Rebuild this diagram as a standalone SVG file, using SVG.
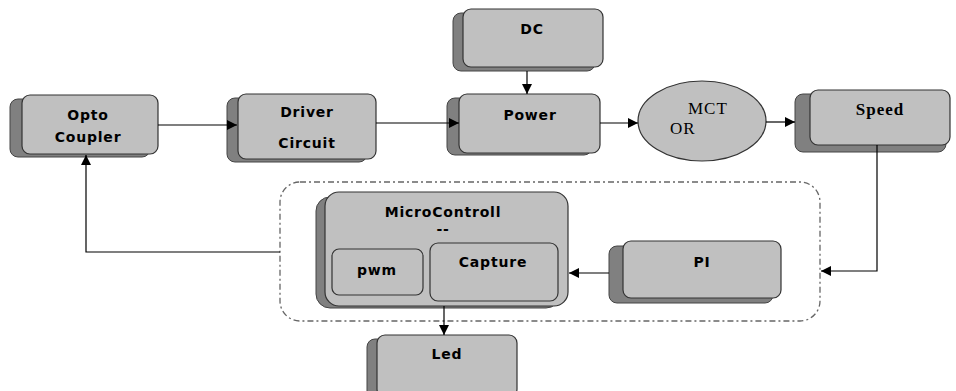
<svg xmlns="http://www.w3.org/2000/svg" width="956" height="391" viewBox="0 0 956 391">
<style>
.sh{fill:#808080;stroke:#444;stroke-width:1}
.fr{fill:#c0c0c0;stroke:#333;stroke-width:1.2}
.t{font-family:"DejaVu Sans",sans-serif;font-weight:bold;font-size:14px;letter-spacing:0.8px;fill:#000;text-anchor:middle}
.s{font-family:"Liberation Serif",serif;font-size:17px;letter-spacing:1px;fill:#000}
.ln{fill:none;stroke:#000;stroke-width:1.2}
</style>
<defs>
<marker id="ah" viewBox="0 0 10 10" refX="10" refY="5" markerWidth="10" markerHeight="10" markerUnits="userSpaceOnUse" orient="auto">
<path d="M0,0 L10,5 L0,10 z" fill="#000"/>
</marker>
</defs>
<rect width="956" height="391" fill="#fff"/>
<g id="boundary">
<rect x="280" y="182" width="540" height="139" rx="20" fill="none" stroke="#666" stroke-width="1.3" stroke-dasharray="6 3 2 3"/>
</g>
<g id="opto">
<rect class="sh" x="10" y="99" width="140" height="58" rx="8"/>
<rect class="fr" x="22" y="95" width="136" height="59" rx="8"/>
<text class="t" x="88" y="120">Opto</text>
<text class="t" x="88" y="142">Coupler</text>
</g>
<g id="driver">
<rect class="sh" x="227" y="98" width="140" height="64" rx="8"/>
<rect class="fr" x="238" y="94" width="138" height="65" rx="8"/>
<text class="t" x="307" y="117">Driver</text>
<text class="t" x="307" y="148">Circuit</text>
</g>
<g id="dc">
<rect class="sh" x="453" y="13" width="142" height="58" rx="8"/>
<rect class="fr" x="463" y="9" width="140" height="58" rx="8"/>
<text class="t" x="532" y="34">DC</text>
</g>
<g id="power">
<rect class="sh" x="447" y="98" width="145" height="57" rx="8"/>
<rect class="fr" x="459" y="94" width="141" height="59" rx="8"/>
<text class="t" x="530" y="120">Power</text>
</g>
<g id="motor">
<ellipse cx="702" cy="121" rx="64" ry="40" fill="#c0c0c0" stroke="#333" stroke-width="1.2"/>
<text class="s" x="688" y="114">MCT</text>
<text class="s" x="670" y="134">OR</text>
</g>
<g id="speed">
<rect class="sh" x="795" y="94" width="151" height="58" rx="8"/>
<rect class="fr" x="810" y="90" width="140" height="55" rx="8"/>
<text x="880" y="115" font-family="Liberation Serif,serif" font-weight="bold" font-size="17" letter-spacing="1" text-anchor="middle">Speed</text>
</g>
<g id="micro">
<rect class="sh" x="316" y="197" width="244" height="111" rx="14"/>
<rect class="fr" x="325" y="192" width="243" height="114" rx="14"/>
<text class="t" x="443" y="217" font-size="11.5" letter-spacing="0.3">MicroControll</text>
<text class="t" x="443" y="234">--</text>
</g>
<g id="pwm">
<rect class="fr" x="332" y="249" width="91" height="46" rx="7"/>
<text class="t" x="377" y="275">pwm</text>
</g>
<g id="capture">
<rect class="fr" x="430" y="243" width="128" height="58" rx="8"/>
<text class="t" x="493" y="267">Capture</text>
</g>
<g id="pi">
<rect class="sh" x="609" y="246" width="164" height="57" rx="8"/>
<rect class="fr" x="623" y="241" width="158" height="57" rx="8"/>
<text class="t" x="702" y="267">PI</text>
</g>
<g id="led">
<rect class="sh" x="367" y="339" width="140" height="60" rx="8"/>
<rect class="fr" x="377" y="335" width="140" height="62" rx="8"/>
<text class="t" x="447" y="359">Led</text>
</g>
<g id="connectors">
<path class="ln" d="M158,125 H237" marker-end="url(#ah)"/>
<path class="ln" d="M376,123 H459" marker-end="url(#ah)"/>
<path class="ln" d="M527,71 V94" marker-end="url(#ah)"/>
<path class="ln" d="M600,123 H638" marker-end="url(#ah)"/>
<path class="ln" d="M766,122 H795" marker-end="url(#ah)"/>
<path class="ln" d="M877,145 V271 H821" marker-end="url(#ah)"/>
<path class="ln" d="M609,273 H569" marker-end="url(#ah)"/>
<path class="ln" d="M444,306 V335" marker-end="url(#ah)"/>
<path class="ln" d="M280,252 H86 V155" marker-end="url(#ah)"/>
</g>
</svg>
